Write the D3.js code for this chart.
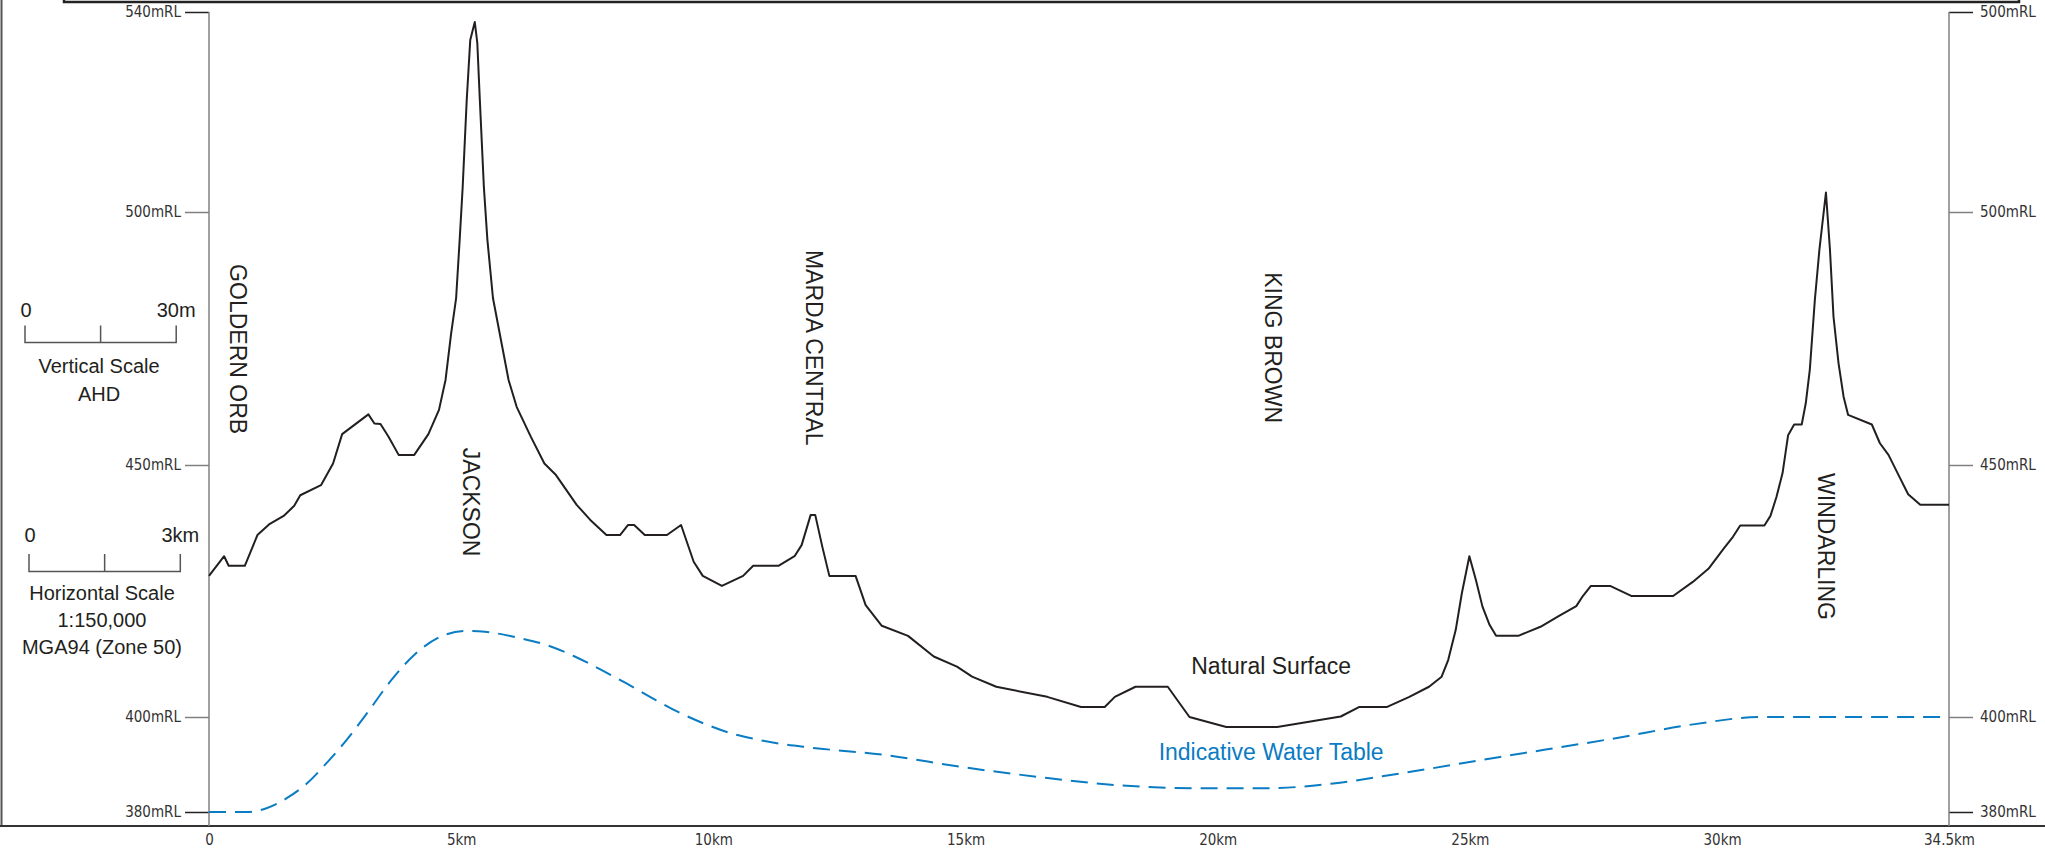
<!DOCTYPE html>
<html>
<head>
<meta charset="utf-8">
<title>Section profile – Natural Surface and Indicative Water Table</title>
<script src="https://cdn.jsdelivr.net/npm/d3@7"></script>
<style>
  html, body { margin: 0; padding: 0; background: #ffffff; }
  svg { display: block; }
  .tick-lbl text { font-family: "Liberation Sans Narrow", "Arial Narrow", "DejaVu Sans Condensed", sans-serif; font-size: 15px; fill: #333333; }
  .lbl { font-family: "Liberation Sans", Arial, Helvetica, sans-serif; fill: #231f20; }
</style>
</head>
<body>
<svg id="chart" width="2045" height="849"></svg>
<script>
// ---- Natural surface profile: chainage (km) and reduced level (mRL) ----
const surfaceKm = [
  0.00, 0.30, 0.39, 0.71, 0.96, 1.19, 1.48, 1.69, 1.81, 2.22,
  2.46, 2.64, 3.16, 3.28, 3.40, 3.56, 3.76, 4.07, 4.35, 4.56,
  4.69, 4.80, 4.90, 4.97, 5.03, 5.11, 5.18, 5.27, 5.32, 5.37,
  5.45, 5.52, 5.63, 5.94, 6.10, 6.38, 6.65, 6.88, 7.29, 7.56,
  7.88, 8.15, 8.31, 8.43, 8.64, 9.08, 9.36, 9.61, 9.79, 10.17,
  10.59, 10.79, 11.29, 11.61, 11.75, 11.93, 12.02, 12.16, 12.30, 12.82,
  13.02, 13.34, 13.86, 14.37, 14.83, 15.13, 15.61, 16.62, 17.29, 17.76,
  17.96, 18.37, 19.01, 19.44, 20.17, 21.18, 22.44, 22.81, 23.36, 23.80,
  24.19, 24.44, 24.57, 24.72, 24.84, 24.99, 25.12, 25.25, 25.39, 25.52,
  25.96, 26.40, 26.76, 27.11, 27.24, 27.40, 27.78, 28.21, 29.03, 29.42,
  29.73, 30.04, 30.22, 30.36, 30.84, 30.96, 31.08, 31.20, 31.31, 31.43,
  31.58, 31.66, 31.74, 31.84, 31.93, 32.06, 32.14, 32.21, 32.31, 32.41,
  32.50, 32.97, 33.13, 33.30, 33.53, 33.69, 33.93, 34.50
];
const surfaceRL = [
  428.0, 431.9, 430.0, 430.0, 436.1, 438.2, 439.9, 441.9, 444.0, 446.0,
  450.3, 456.1, 460.0, 458.2, 458.1, 455.6, 452.0, 452.0, 456.1, 460.9,
  466.8, 475.9, 483.0, 494.5, 505.0, 522.4, 534.4, 538.0, 533.8, 522.4,
  505.0, 494.5, 483.0, 466.8, 461.5, 455.6, 450.3, 448.0, 442.1, 439.1,
  436.1, 436.1, 438.1, 438.1, 436.1, 436.1, 438.1, 430.8, 428.0, 426.0,
  428.0, 430.0, 430.0, 431.9, 434.1, 440.1, 440.1, 433.8, 428.0, 428.0,
  422.2, 418.1, 416.1, 412.0, 410.0, 408.0, 406.0, 404.0, 402.0, 402.0,
  404.0, 406.0, 406.0, 400.0, 397.9, 397.9, 400.1, 402.0, 402.0, 404.0,
  406.0, 408.0, 411.3, 417.3, 424.5, 431.9, 427.2, 421.9, 418.3, 416.1,
  416.1, 417.9, 420.0, 422.0, 424.0, 426.0, 426.0, 424.0, 424.0, 426.8,
  429.4, 433.5, 435.8, 438.0, 438.0, 439.9, 443.7, 448.4, 455.9, 458.0,
  458.0, 462.2, 468.8, 482.6, 492.5, 503.9, 492.5, 479.3, 470.1, 463.5,
  459.9, 458.0, 454.3, 452.0, 447.4, 444.2, 442.1, 442.1
];

// ---- Indicative water table ----
const waterKm = [
  0.00, 0.75, 1.14, 1.54, 1.94, 2.33, 2.73, 3.13, 3.59, 4.10,
  4.56, 5.10, 5.47, 6.19, 6.72, 7.23, 7.75, 8.27, 8.78, 9.30,
  9.82, 10.34, 10.85, 11.37, 11.89, 13.40, 14.91, 16.43, 17.94, 19.65,
  20.97, 22.29, 23.61, 25.60, 27.92, 29.46, 30.77, 32.06, 34.50
];
const waterRL = [
  380.0, 380.0, 380.8, 382.9, 386.0, 390.3, 395.2, 400.7, 407.0, 412.6,
  415.8, 417.1, 416.9, 415.6, 414.2, 412.1, 409.5, 406.7, 403.8, 401.0,
  398.6, 396.6, 395.3, 394.3, 393.6, 392.0, 389.5, 387.4, 385.7, 385.0,
  385.0, 386.0, 388.1, 391.6, 395.6, 398.5, 400.0, 400.0, 400.0
];

// ---- Axis ticks ----
const rlTicks = [540, 500, 450, 400, 380];
const rlTickLabelsLeft = ["540mRL", "500mRL", "450mRL", "400mRL", "380mRL"];
const rlTickLabelsRight = ["500mRL", "500mRL", "450mRL", "400mRL", "380mRL"];
const kmTicks = [0, 5, 10, 15, 20, 25, 30, 34.5];
const kmTickLabels = ["0", "5km", "10km", "15km", "20km", "25km", "30km", "34.5km"];

// ---- Named deposits along the section ----
const siteNames = ["GOLDERN ORB", "JACKSON", "MARDA CENTRAL", "KING BROWN", "WINDARLING"];
const siteKm = [0.58, 5.19, 11.99, 21.10, 32.06];
const siteTopRL = [489.7, 453.4, 492.5, 488.1, 448.4];

const svg = d3.select("#chart");
const W = 2045, H = 849;
const frameBottom = 826;

const x = d3.scaleLinear().domain([0, 34.5]).range([209, 1949]);
const y = d3.scaleLinear().domain([380, 400, 450, 500, 540]).range([812, 717, 465, 212, 12]);

// ---- Frame ----
svg.append("path")
  .attr("d", `M64,0 V2 H2019 V0`)
  .attr("fill", "none").attr("stroke", "#222").attr("stroke-width", 2.5);
svg.append("line")
  .attr("x1", 1.5).attr("x2", 1.5).attr("y1", 0).attr("y2", frameBottom)
  .attr("stroke", "#555").attr("stroke-width", 2);
svg.append("line")
  .attr("x1", 0).attr("x2", W).attr("y1", frameBottom).attr("y2", frameBottom)
  .attr("stroke", "#333").attr("stroke-width", 2);

// ---- Vertical axes ----
function styleAxis(g) {
  g.select(".domain").remove();
  g.selectAll(".tick line")
    .attr("stroke", d => (d === 540 || d === 380) ? "#222" : "#808080")
    .attr("stroke-width", 1.5);
}
svg.append("g").attr("class", "tick-lbl")
  .attr("transform", `translate(${x(0)},0)`)
  .call(d3.axisLeft(y).tickValues(rlTicks)
    .tickFormat((d, i) => rlTickLabelsLeft[i]).tickSize(24).tickPadding(4))
  .call(styleAxis);
svg.append("g").attr("class", "tick-lbl")
  .attr("transform", `translate(${x(34.5)},0)`)
  .call(d3.axisRight(y).tickValues(rlTicks)
    .tickFormat((d, i) => rlTickLabelsRight[i]).tickSize(24).tickPadding(7))
  .call(styleAxis);
[x(0), x(34.5)].forEach(px => {
  svg.append("line")
    .attr("x1", px).attr("x2", px).attr("y1", y(540)).attr("y2", frameBottom)
    .attr("stroke", "#808080").attr("stroke-width", 1.5);
});

// ---- Chainage axis ----
svg.append("g").attr("class", "tick-lbl")
  .attr("transform", `translate(0,${frameBottom})`)
  .call(d3.axisBottom(x).tickValues(kmTicks)
    .tickFormat((d, i) => kmTickLabels[i]).tickSize(0).tickPadding(8))
  .call(g => g.select(".domain").remove());

// ---- Water table ----
const waterLine = d3.line()
  .x(d => x(d[0])).y(d => y(d[1]))
  .curve(d3.curveMonotoneX);
svg.append("path")
  .datum(d3.zip(waterKm, waterRL))
  .attr("d", waterLine)
  .attr("fill", "none")
  .attr("stroke", "#0a7cc3")
  .attr("stroke-width", 2)
  .attr("stroke-dasharray", "17 9");

// ---- Natural surface ----
const surfaceLine = d3.line().x(d => x(d[0])).y(d => y(d[1]));
svg.append("path")
  .datum(d3.zip(surfaceKm, surfaceRL))
  .attr("d", surfaceLine)
  .attr("fill", "none")
  .attr("stroke", "#231f20")
  .attr("stroke-width", 2)
  .attr("stroke-linejoin", "round");

// ---- Deposit names (rotated) ----
siteNames.forEach((name, i) => {
  svg.append("text").attr("class", "lbl")
    .attr("transform", `translate(${x(siteKm[i])},${y(siteTopRL[i])}) rotate(90)`)
    .attr("text-anchor", "start")
    .attr("dominant-baseline", "central")
    .style("font-size", "23px")
    .text(name);
});

// ---- Line labels ----
svg.append("text").attr("class", "lbl")
  .attr("x", x(21.06)).attr("y", y(408.5))
  .attr("text-anchor", "middle").style("font-size", "23px")
  .text("Natural Surface");
svg.append("text").attr("class", "lbl")
  .attr("x", x(21.06)).attr("y", y(390.9))
  .attr("text-anchor", "middle").style("font-size", "23px")
  .style("fill", "#0a7cc3")
  .text("Indicative Water Table");

// ---- Scale bars ----
function scaleBar(x0, lineY, len, tickH, leftLbl, rightLbl, lblY) {
  const g = svg.append("g");
  g.append("path")
    .attr("d", `M${x0},${lineY - tickH} V${lineY} H${x0 + len} V${lineY - tickH} M${x0 + len / 2},${lineY} V${lineY - tickH}`)
    .attr("fill", "none").attr("stroke", "#555").attr("stroke-width", 1.5);
  g.append("text").attr("class", "lbl").attr("x", x0 + 1).attr("y", lblY)
    .attr("text-anchor", "middle").style("font-size", "20px").text(leftLbl);
  g.append("text").attr("class", "lbl").attr("x", x0 + len).attr("y", lblY)
    .attr("text-anchor", "middle").style("font-size", "20px").text(rightLbl);
}
// 30 m of elevation and 3 km of chainage, measured with the chart scales
const vLen = y(400) - y(430);
const hLen = x(3) - x(0);
scaleBar(25, 342.5, vLen, 17, "0", "30m", 317);
scaleBar(29, 571.5, hLen, 17.5, "0", "3km", 542);

const legendText = [
  ["Vertical Scale", 99, 373],
  ["AHD", 99, 401],
  ["Horizontal Scale", 102, 600],
  ["1:150,000", 102, 627],
  ["MGA94 (Zone 50)", 102, 654]
];
legendText.forEach(([t, lx, ly]) => {
  svg.append("text").attr("class", "lbl")
    .attr("x", lx).attr("y", ly)
    .attr("text-anchor", "middle").style("font-size", "20px")
    .text(t);
});
</script>
</body>
</html>
